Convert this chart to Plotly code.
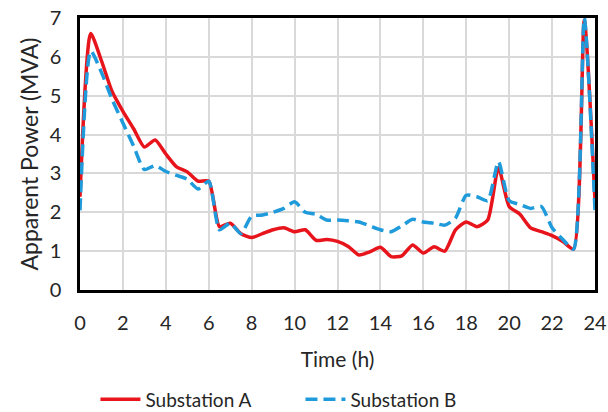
import plotly.graph_objects as go

# Half-hourly apparent power profiles (MVA)
hours = [i * 0.5 for i in range(49)]

substation_a = [
    2.40, 6.60, 5.90, 5.10, 4.60, 4.15, 3.68, 3.86, 3.50, 3.17,
    3.04, 2.80, 2.80, 1.63, 1.72, 1.45, 1.35, 1.45, 1.55, 1.60,
    1.50, 1.55, 1.28, 1.30, 1.25, 1.12, 0.90, 0.98, 1.10, 0.86,
    0.88, 1.16, 0.95, 1.11, 1.00, 1.55, 1.75, 1.63, 1.80, 3.15,
    2.15, 1.95, 1.60, 1.50, 1.40, 1.25, 1.05, 6.95, 2.30,
]

substation_b = [
    2.05, 6.15, 5.60, 4.90, 4.30, 3.70, 3.10, 3.20, 3.05, 2.95,
    2.85, 2.60, 2.80, 1.55, 1.72, 1.45, 1.90, 1.93, 2.00, 2.10,
    2.27, 2.00, 1.95, 1.80, 1.80, 1.78, 1.75, 1.65, 1.55, 1.50,
    1.65, 1.82, 1.75, 1.72, 1.67, 1.85, 2.44, 2.40, 2.30, 3.30,
    2.30, 2.20, 2.10, 2.15, 1.60, 1.30, 1.05, 7.00, 2.05,
]

x_ticks = list(range(0, 25, 2))
y_ticks = list(range(0, 8))

FONT = "Lato"
TEXT = "#262626"

fig = go.Figure()
fig.add_trace(go.Scatter(
    x=hours, y=substation_a, name="Substation A", mode="lines",
    line=dict(color="#E8141C", width=3.5, shape="spline", smoothing=0.6),
))
fig.add_trace(go.Scatter(
    x=hours, y=substation_b, name="Substation B", mode="lines",
    line=dict(color="#1F9BDB", width=3.5, dash="12px,6px", shape="spline", smoothing=0.6),
))

fig.update_layout(
    width=608, height=412,
    margin=dict(l=80, r=13, t=18, b=122, autoexpand=False),
    paper_bgcolor="white", plot_bgcolor="white",
    font=dict(family=FONT, size=20, color=TEXT),
    showlegend=True,
    legend=dict(
        orientation="h", x=0.03, xanchor="left", y=-0.472, yanchor="bottom",
        font=dict(size=19, color=TEXT), itemwidth=40,
        entrywidth=150, entrywidthmode="pixels",
    ),
)

fig.update_xaxes(
    range=[0, 24], tickvals=x_ticks, ticktext=[str(v) for v in x_ticks],
    showgrid=True, gridcolor="#D9D9D9", gridwidth=1.5,
    showline=True, linecolor="black", linewidth=2.5, mirror=True,
    ticks="", ticklabelstandoff=13, zeroline=False,
    title=dict(text="Time (h)", standoff=20, font=dict(size=21)),
    tickfont=dict(size=20),
)
fig.update_yaxes(
    range=[0, 7], tickvals=y_ticks, ticktext=[str(v) for v in y_ticks],
    showgrid=True, gridcolor="#D9D9D9", gridwidth=1.5,
    showline=True, linecolor="black", linewidth=2.5, mirror=True,
    ticks="", ticklabelstandoff=12, zeroline=False,
    title=dict(text="Apparent Power (MVA)", standoff=5, font=dict(size=23)),
    tickfont=dict(size=20),
)

fig.write_html("out.html")
